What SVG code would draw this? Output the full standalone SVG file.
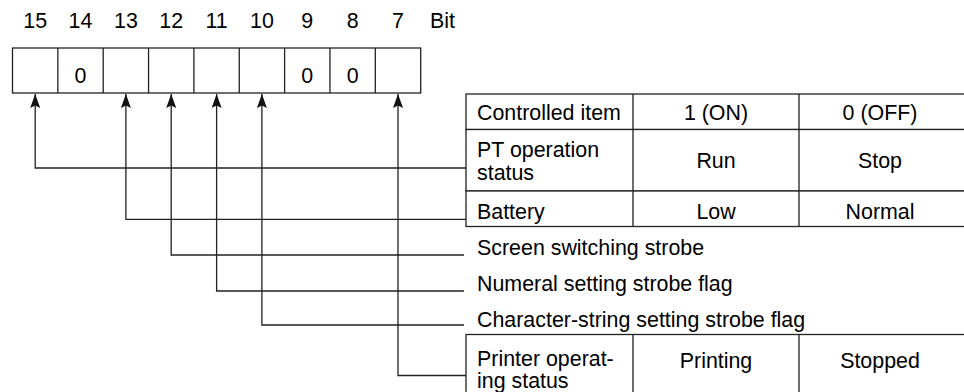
<svg xmlns="http://www.w3.org/2000/svg" width="964" height="392" viewBox="0 0 964 392">
<style>
  text { font-family: "Liberation Sans", Arial, sans-serif; font-size: 21.4px; fill: #000; }
  .c { text-anchor: middle; }
  .box { fill: #fff; stroke: #222; stroke-width: 1.3; }
  .ln { fill: none; stroke: #222; stroke-width: 1.3; }
  .conn { fill: none; stroke: #222; stroke-width: 1.3; marker-end: url(#arr); }
</style>
<defs>
  <marker id="arr" markerUnits="userSpaceOnUse" markerWidth="14" markerHeight="10" refX="14" refY="5" orient="auto">
    <path d="M0,0 L14,5 L0,10 L2.5,5 z" fill="#111"/>
  </marker>
</defs>
<rect width="964" height="392" fill="#fff"/>

<g id="bit-numbers">
  <text class="c" x="35.2" y="28">15</text>
  <text class="c" x="80.5" y="28">14</text>
  <text class="c" x="125.9" y="28">13</text>
  <text class="c" x="171.2" y="28">12</text>
  <text class="c" x="216.6" y="28">11</text>
  <text class="c" x="261.9" y="28">10</text>
  <text class="c" x="307.3" y="28">9</text>
  <text class="c" x="352.6" y="28">8</text>
  <text class="c" x="398" y="28">7</text>
  <text x="430" y="28">Bit</text>
</g>

<g id="register">
  <rect class="box" x="12.5" y="48" width="408.2" height="45"/>
  <path class="ln" d="M57.85,48V93M103.2,48V93M148.55,48V93M193.9,48V93M239.25,48V93M284.6,48V93M329.95,48V93M375.3,48V93"/>
  <text class="c" x="80.5" y="83">0</text>
  <text class="c" x="307.3" y="83">0</text>
  <text class="c" x="352.6" y="83">0</text>
</g>

<g id="table-header">
  <rect class="box" x="466" y="94" width="500" height="35.5"/>
  <path class="ln" d="M633,94V129.5M799,94V129.5"/>
  <text x="477" y="120">Controlled item</text>
  <text class="c" x="716" y="120">1 (ON)</text>
  <text class="c" x="880" y="120">0 (OFF)</text>
</g>

<g id="row-pt-operation">
  <rect class="box" x="466" y="129.5" width="500" height="61.5"/>
  <path class="ln" d="M633,129.5V191M799,129.5V191"/>
  <text x="477" y="156.5">PT operation</text>
  <text x="477" y="180">status</text>
  <text class="c" x="716" y="168">Run</text>
  <text class="c" x="880" y="168">Stop</text>
</g>

<g id="row-battery">
  <rect class="box" x="466" y="191" width="500" height="35.5"/>
  <path class="ln" d="M633,191V226.5M799,191V226.5"/>
  <text x="477" y="219">Battery</text>
  <text class="c" x="716" y="219">Low</text>
  <text class="c" x="880" y="219">Normal</text>
</g>

<g id="label-screen">
  <text x="477" y="255">Screen switching strobe</text>
</g>
<g id="label-numeral">
  <text x="477" y="291">Numeral setting strobe flag</text>
</g>
<g id="label-character">
  <text x="477" y="326.5">Character-string setting strobe flag</text>
</g>

<g id="row-printer">
  <rect class="box" x="466" y="334.5" width="500" height="62"/>
  <path class="ln" d="M633,334.5V396.5M799,334.5V396.5"/>
  <text x="477" y="366">Printer operat-</text>
  <text x="477" y="388">ing status</text>
  <text class="c" x="716" y="368">Printing</text>
  <text class="c" x="880" y="368">Stopped</text>
</g>

<g id="connectors">
  <path class="conn" d="M466,168H35.2V94"/>
  <path class="conn" d="M466,219.3H125.9V94"/>
  <path class="conn" d="M464,255H171.2V94"/>
  <path class="conn" d="M464,291H216.6V94"/>
  <path class="conn" d="M464,325H261.9V94"/>
  <path class="conn" d="M466,375.5H398V94"/>
</g>
</svg>
